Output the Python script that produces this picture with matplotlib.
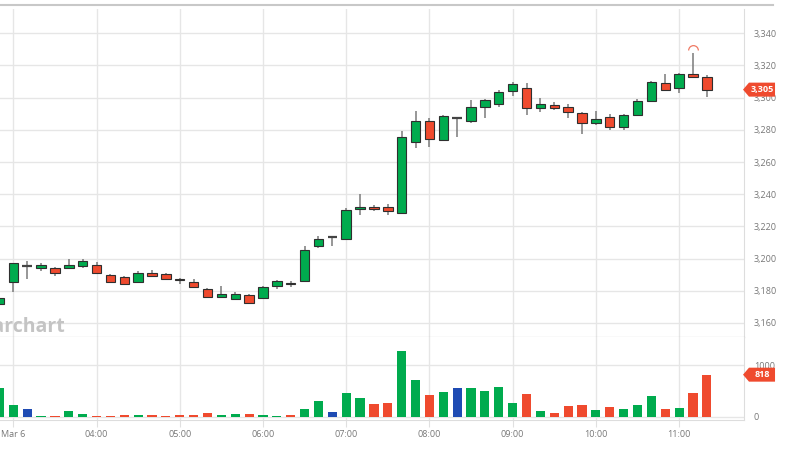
import numpy as np
import pandas as pd
import matplotlib
matplotlib.use("Agg")
import matplotlib.pyplot as plt
from matplotlib.path import Path
from matplotlib.patches import Polygon
from matplotlib.lines import Line2D
from matplotlib.transforms import blended_transform_factory, ScaledTranslation

plt.rcParams['font.family'] = ['Open Sans', 'DejaVu Sans']

# 10-minute bars, Mar 6 (first bar 02:50, last 11:20)
times = pd.date_range("2025-03-06 02:50", "2025-03-06 11:20", freq="10min")
opens = [3172, 3185.3, 3195.2, 3194.2, 3194.2, 3194.2, 3195.2, 3196.3, 3190, 3188.4,
         3185.3, 3191.3, 3190.5, 3187.6, 3185.3, 3181, 3176.2, 3175.2, 3177.3, 3175.4,
         3183.2, 3185.1, 3186, 3208, 3213.3, 3212, 3230.9, 3232.1, 3232.3, 3228.6,
         3272.2, 3285.3, 3274, 3287.6, 3285.3, 3294.4, 3296.3, 3304.3, 3306.2, 3293.4,
         3295.2, 3294.3, 3290.2, 3284, 3288.1, 3281.9, 3289, 3297.9, 3309, 3306,
         3315, 3313]
highs = [3177, 3197.5, 3198.3, 3197.3, 3194.5, 3200, 3199.8, 3198, 3190.5, 3189.2,
         3192, 3193.2, 3191, 3188.2, 3187.6, 3181.5, 3183, 3179, 3177.8, 3183,
         3186.5, 3186.3, 3208, 3214.1, 3214.2, 3231.7, 3240, 3233.4, 3233.8, 3279,
         3292, 3287.3, 3289, 3287.8, 3298.3, 3299, 3305, 3309.5, 3309.3, 3300,
         3297.6, 3296, 3291.4, 3292, 3290, 3290, 3299.3, 3310.3, 3314.8, 3315.2,
         3327.7, 3314.2]
lows = [3171, 3179.3, 3187.4, 3192.1, 3189, 3193.6, 3194, 3191, 3185, 3184,
        3185, 3189, 3187, 3184.5, 3182, 3175.4, 3176, 3174.4, 3172, 3175,
        3181.4, 3182.4, 3185.5, 3206.8, 3207.9, 3211.5, 3227.1, 3229.6, 3227, 3228,
        3268.5, 3269.6, 3273, 3275.5, 3284.5, 3287.3, 3294.5, 3301.2, 3289.4, 3291.3,
        3292.5, 3287.3, 3277.4, 3283, 3280.2, 3280.2, 3288.5, 3297.5, 3304.5, 3303,
        3312.5, 3300.7]
closes = [3175.5, 3197.3, 3195.2, 3196.3, 3191.3, 3196.3, 3198.3, 3191.3, 3185.3, 3184.3,
          3191.3, 3189.2, 3187.4, 3186.5, 3182.4, 3176, 3178.1, 3178.3, 3172.3, 3182.2,
          3186, 3184.1, 3205.2, 3212.2, 3213.3, 3230, 3232.1, 3231, 3229.3, 3275.5,
          3285.3, 3274.3, 3288.4, 3287.6, 3294.4, 3298.3, 3303.3, 3308.3, 3293.4, 3296.3,
          3293.5, 3291, 3284, 3286.9, 3281.9, 3289.2, 3298, 3309.9, 3305, 3314.8,
          3313, 3305]
volumes = [553, 222, 150, 20, 20, 111, 52, 20, 15, 26,
           26, 26, 13, 39, 33, 78, 33, 52, 58, 39,
           20, 26, 156, 305, 84, 467, 357, 240, 272, 1279,
           708, 429, 481, 565, 565, 500, 578, 266, 435, 110,
           71, 214, 234, 136, 182, 149, 221, 396, 156, 162,
           455, 818]

hour_ticks = ["03:00", "04:00", "05:00", "06:00", "07:00", "08:00", "09:00", "10:00", "11:00"]
hour_labels = ["Mar 6", "04:00", "05:00", "06:00", "07:00", "08:00", "09:00", "10:00", "11:00"]
price_ticks = [3160, 3180, 3200, 3220, 3240, 3260, 3280, 3300, 3320, 3340]
vol_ticks = [0, 1000]

GREEN = '#00ab4e'
RED = '#ef4a2e'
BLUE = '#1f4bb3'

step = pd.Timedelta("10min")
origin = pd.Timestamp("2025-03-06 03:00")
x = np.array((times - origin) / step, dtype=float)
o = np.array(opens); h = np.array(highs); l = np.array(lows); c = np.array(closes)
v = np.array(volumes)

fig = plt.figure(figsize=(7.87, 4.58), dpi=100)
W, H = 787, 458
ax = fig.add_axes([0, 1 - 337 / H, 744 / W, (337 - 9) / H])
axv = fig.add_axes([0, 1 - 420 / H, 744 / W, (420 - 337) / H], sharex=ax)

# candles
ax.vlines(x, l, h, color='#7a7a7a', lw=1.1, zorder=2)
for xi, oi, ci in zip(x, o, c):
    if oi == ci:
        ax.hlines(ci, xi - 0.34, xi + 0.34, color='#444444', lw=1.6, zorder=3)
    else:
        col = GREEN if ci > oi else RED
        ax.bar(xi, abs(ci - oi), bottom=min(oi, ci), width=0.68, color=col,
               edgecolor='#2f2f2f', linewidth=0.8, zorder=3)

# volume bars
vcol = [GREEN if ci > oi else (RED if ci < oi else BLUE) for oi, ci in zip(o, c)]
axv.bar(x, v, width=0.66, color=vcol, zorder=3)

# high marker
k = int(np.argmax(h))
arc = Path.arc(0, 180)
ax.plot(x[k], h[k], marker=arc, ms=7, mfc='none', mec='#f07a64', mew=0.9, zorder=4,
        transform=ax.transData + ScaledTranslation(0, 2.5 / 72, fig.dpi_scale_trans))

# axes styling
xticks = [(pd.Timestamp("2025-03-06 " + t) - origin) / step for t in hour_ticks]
ax.set_xlim(-0.96, 52.68)
ax.set_ylim(3151.3, 3355.1)
axv.set_ylim(-64, 1551)

for a in (ax, axv):
    a.yaxis.tick_right()
    a.grid(True, color='#e6e6e6', lw=1, zorder=0)
    a.set_axisbelow(True)
    for s in ('top', 'left'):
        a.spines[s].set_visible(False)
    a.spines['right'].set_color('#dddddd')
    a.tick_params(axis='y', length=0, pad=7, labelsize=6.5, labelcolor='#777777')

ax.spines['bottom'].set_color('#9a9a9a')
axv.spines['bottom'].set_color('#dddddd')

ax.set_yticks(price_ticks)
ax.set_yticklabels([f"{p:,}" for p in price_ticks])
axv.set_yticks(vol_ticks)
axv.set_yticklabels([str(t) for t in vol_ticks])

axv.set_xticks(xticks)
axv.set_xticklabels(hour_labels)
ax.tick_params(axis='x', length=0, labelbottom=False)
axv.tick_params(axis='x', length=5, color='#e0e0e0', pad=2, labelsize=6.5,
                labelcolor='#777777')


# last value tags
def tag(a, y, text, half):
    tr = blended_transform_factory(a.transAxes, a.transData)
    pts = [(0.9987, y), (1.0067, y + half), (1.0417, y + half),
           (1.0417, y - half), (1.0067, y - half)]
    a.add_patch(Polygon(pts, closed=True, transform=tr, fc=RED, ec='none',
                        clip_on=False, zorder=5))
    a.text(1.0242, y, text, transform=tr, ha='center', va='center', color='white',
           fontsize=6.5, fontweight='bold', zorder=6, clip_on=False)


tag(ax, c[-1], f"{c[-1]:,.0f}", 4.35)
tag(axv, v[-1], f"{v[-1]}", 136)

# top rule and watermark
fig.add_artist(Line2D([0, 773 / W], [1 - 4.7 / H] * 2, color='#c8c8c8', lw=1.5,
                      transform=fig.transFigure))
fig.text(65 / W, 1 - 331.5 / H, 'barchart', ha='right', va='baseline', fontsize=14,
         fontweight='bold', color='#c4c4c4', zorder=1)

fig.savefig('out.png', dpi=100)
